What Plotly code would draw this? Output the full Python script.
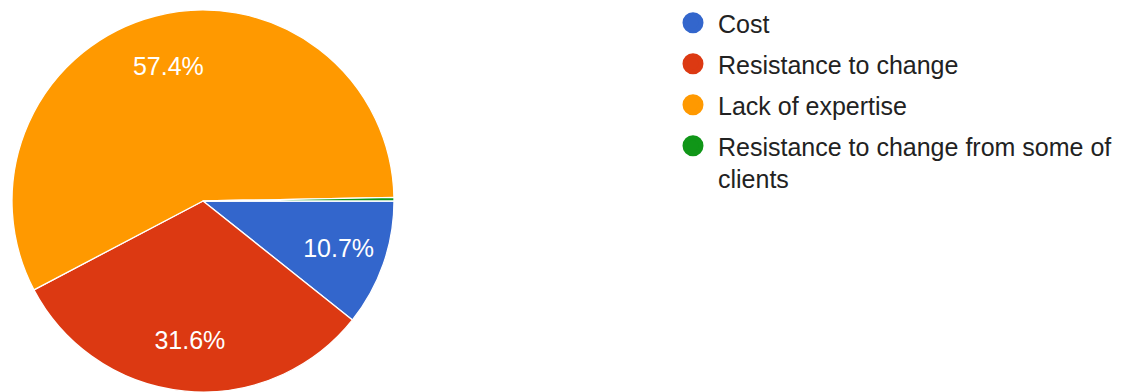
import plotly.graph_objects as go

# Survey answers and their shares (percent of respondents)
categories = [
    "Cost",
    "Resistance to change",
    "Lack of expertise",
    "Resistance to change from some of<br>clients",
]
shares = [10.7, 31.6, 57.4, 0.3]
colors = ["#3366cc", "#dc3912", "#ff9900", "#109618"]
# slices too thin to hold a label stay unlabeled
label_templates = ["%{percent}", "%{percent}", "%{percent}", ""]

FONT = "Arial, Liberation Sans, sans-serif"
W, H = 1123, 392
ML = 12
PW, PH = W - ML, H
PIE_TOP = 10  # px of white above the pie
pie_domain = dict(x=[0, (PH - PIE_TOP) / PW], y=[0, 1 - PIE_TOP / PH])

fig = go.Figure()

# filled slices
fig.add_trace(go.Pie(
    labels=categories,
    values=shares,
    sort=False,
    direction="clockwise",
    rotation=90,
    marker=dict(colors=colors, line=dict(color="white", width=1.3)),
    textinfo="none",
    showlegend=False,
    hoverinfo="label+percent",
    domain=pie_domain,
))

# percentage labels, set out along the outer ring of each slice
fig.add_trace(go.Pie(
    labels=categories,
    values=shares,
    sort=False,
    direction="clockwise",
    rotation=90,
    hole=0.46,
    marker=dict(colors=["rgba(0,0,0,0)"] * len(shares),
                line=dict(width=0)),
    texttemplate=label_templates,
    textposition="inside",
    insidetextorientation="horizontal",
    textfont=dict(family=FONT, size=25, color="white"),
    showlegend=False,
    hoverinfo="skip",
    domain=pie_domain,
))

# round legend keys, one per category
for i, (name, col) in enumerate(zip(categories, colors)):
    fig.add_trace(go.Scatter(
        x=[None], y=[None],
        mode="markers",
        name=name,
        legendgroup=f"g{i}",
        marker=dict(symbol="circle", size=16, color=col,
                    line=dict(color=col, width=5)),
        hoverinfo="skip",
    ))

fig.update_layout(
    width=W, height=H,
    margin=dict(l=ML, r=0, t=0, b=0, autoexpand=False),
    paper_bgcolor="white",
    plot_bgcolor="white",
    xaxis=dict(visible=False),
    yaxis=dict(visible=False),
    font=dict(family=FONT, color="#222222"),
    legend=dict(
        x=(668 - ML) / PW, y=1,
        xanchor="left", yanchor="top",
        valign="top",
        font=dict(family=FONT, size=25, color="#222222"),
        itemwidth=40,
        traceorder="grouped",
        tracegroupgap=5.5,
        bgcolor="rgba(0,0,0,0)",
    ),
)

fig.write_html("out.html")
